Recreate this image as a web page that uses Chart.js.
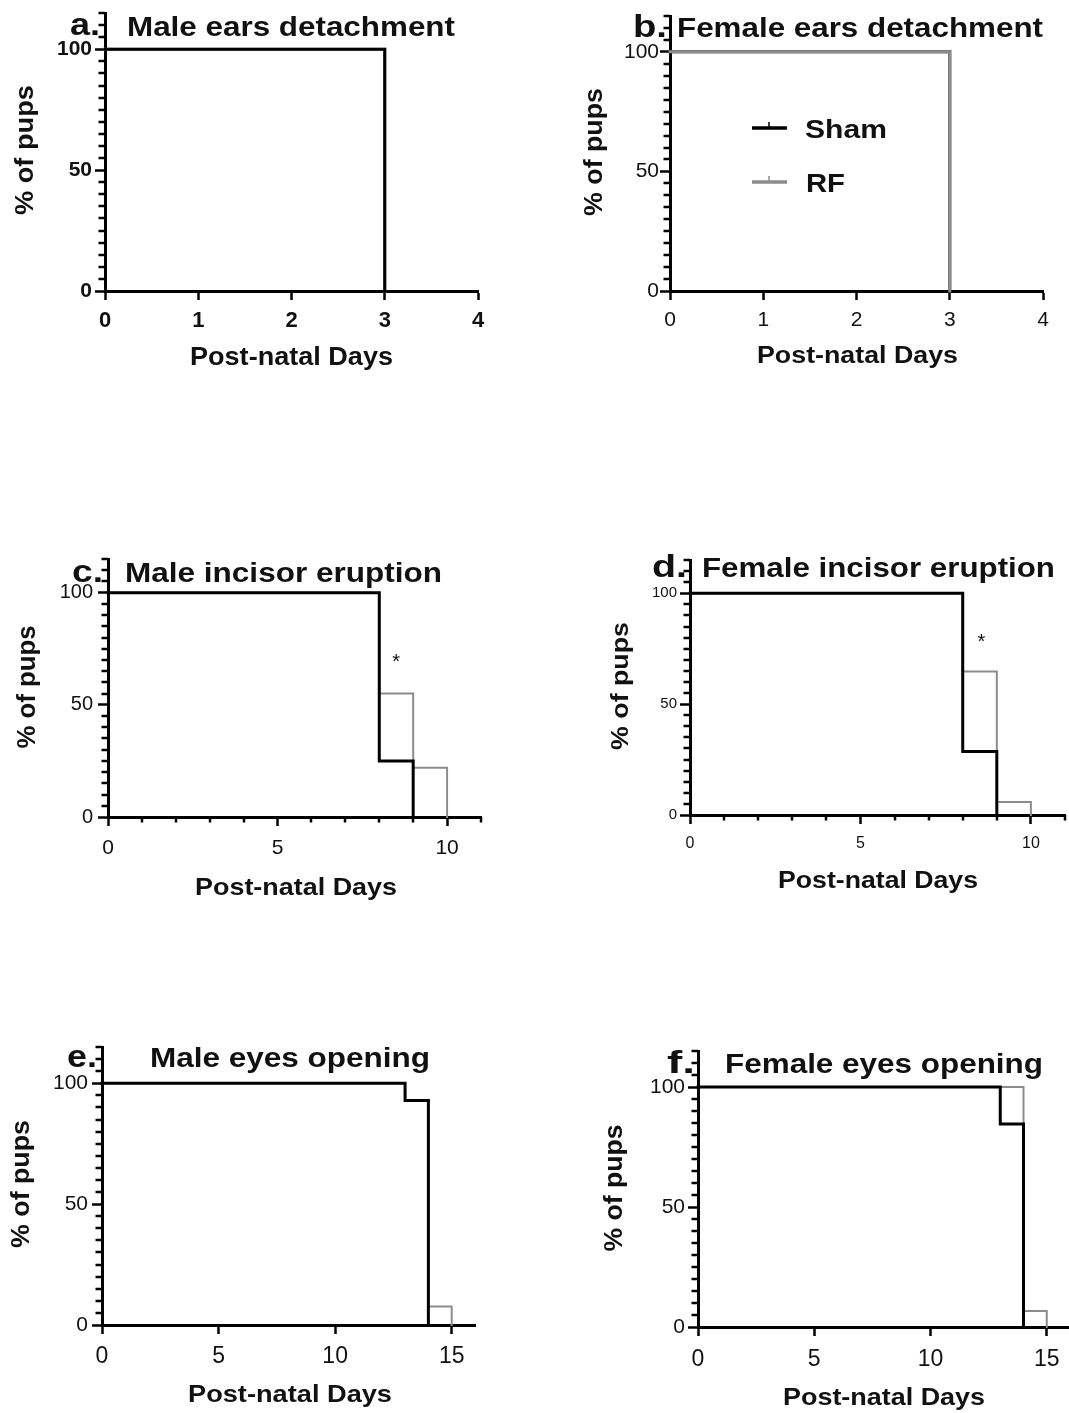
<!DOCTYPE html>
<html><head><meta charset="utf-8">
<script src="https://cdn.jsdelivr.net/npm/chart.js@4.4.0/dist/chart.umd.min.js"></script>
<style>
html,body{margin:0;padding:0;background:#fff;width:1069px;height:1413px;overflow:hidden;position:relative;}
canvas{position:absolute;}
#ov{position:absolute;left:0;top:0;pointer-events:none;}
#ov text{font-family:"Liberation Sans",Arial,Helvetica,sans-serif;fill:#111;}
</style></head><body>
<div id="wrap"></div>
<svg id="ov" width="1069" height="1413" xmlns="http://www.w3.org/2000/svg"></svg>
<script>
// ---------------- DATA ----------------
const seriesNames = ['Sham', 'RF'];
const xTitle = 'Post-natal Days';
const yTitle = '% of pups';
const panelLetters = ['a.', 'b.', 'c.', 'd.', 'e.', 'f.'];
const panelTitles = ['Male ears detachment', 'Female ears detachment', 'Male incisor eruption',
                     'Female incisor eruption', 'Male eyes opening', 'Female eyes opening'];

const yMajorTicks = [0, 50, 100];
const yMinorTicks = [5, 10, 15, 20, 25, 30, 35, 40, 45, 55, 60, 65, 70, 75, 80, 85, 90, 95, 105, 110, 115];
const xTicksEars = [0, 1, 2, 3, 4];
const xTicksIncisor = [0, 5, 10];
const xMinorIncisor = [1, 2, 3, 4, 6, 7, 8, 9, 11];
const xTicksEyes = [0, 5, 10, 15];

// a. Male ears detachment
const aDaysSham = [0, 3], aPctSham = [100, 0];
const aDaysRF = [0, 3], aPctRF = [100, 0];
// b. Female ears detachment
const bDaysSham = [0, 3], bPctSham = [100, 0];
const bDaysRF = [0, 3], bPctRF = [100, 0];
// c. Male incisor eruption
const cDaysSham = [0, 8, 9], cPctSham = [100, 25, 0];
const cDaysRF = [0, 8, 9, 10], cPctRF = [100, 55, 22, 0];
const cStar = [8.5, 71.5];
// d. Female incisor eruption
const dDaysSham = [0, 8, 9], dPctSham = [100, 28.6, 0];
const dDaysRF = [0, 8, 9, 10], dPctRF = [100, 64.7, 5.9, 0];
const dStar = [8.55, 80.5];
// e. Male eyes opening
const eDaysSham = [0, 13, 14], ePctSham = [100, 92.9, 0];
const eDaysRF = [0, 13, 14, 15], ePctRF = [100, 92.9, 7.7, 0];
// f. Female eyes opening
const fDaysSham = [0, 13, 14], fPctSham = [100, 84.6, 0];
const fDaysRF = [0, 14, 15], fPctRF = [100, 6.7, 0];

// ---------------- STYLE / LAYOUT ----------------
const FONT = '"Liberation Sans", Arial, Helvetica, sans-serif';
const SHAM_COLOR = '#000000';
const RF_COLOR = '#8c8c8c';
const W = 50, H = 45, T = 4, R = 22;

function pts(xs, ys) { return xs.map((x, i) => ({ x: x, y: ys[i] })); }

const panels = [
  { x0: 105, x1: 478, yTop: 12.7, y0: 291, xMax: 4, xTicks: xTicksEars, xMinor: [],
    sham: pts(aDaysSham, aPctSham), rf: pts(aDaysRF, aPctRF), rfTop: false, rfW: 3,
    yFont: { size: 21, weight: 'bold' }, xFont: { size: 22, weight: 'bold' }, yPad: 3, xPad: 8, stars: [] },
  { x0: 670, x1: 1043, yTop: 16.1, y0: 291, xMax: 4, xTicks: xTicksEars, xMinor: [],
    sham: pts(bDaysSham, bPctSham), rf: pts(bDaysRF, bPctRF), rfTop: true, rfW: 3,
    yFont: { size: 21, weight: 'normal' }, xFont: { size: 21, weight: 'normal' }, yPad: 1, xPad: 8, stars: [] },
  { x0: 108, x1: 481, yTop: 559.4, y0: 817, xMax: 11, xTicks: xTicksIncisor, xMinor: xMinorIncisor,
    sham: pts(cDaysSham, cPctSham), rf: pts(cDaysRF, cPctRF), rfTop: false, rfW: 2,
    yFont: { size: 20, weight: 'normal' }, xFont: { size: 21, weight: 'normal' }, yPad: 5, xPad: 10, stars: [cStar] },
  { x0: 690, x1: 1065, yTop: 560, y0: 815, xMax: 11, xTicks: xTicksIncisor, xMinor: xMinorIncisor,
    sham: pts(dDaysSham, dPctSham), rf: pts(dDaysRF, dPctRF), rfTop: false, rfW: 2,
    yFont: { size: 15, weight: 'normal' }, xFont: { size: 16, weight: 'normal' }, yPad: 3, xPad: 10, stars: [dStar] },
  { x0: 102, x1: 475.3, yTop: 1047, y0: 1325, xMax: 16, xTicks: xTicksEyes, xMinor: [],
    sham: pts(eDaysSham, ePctSham), rf: pts(eDaysRF, ePctRF), rfTop: false, rfW: 2,
    yFont: { size: 21, weight: 'normal' }, xFont: { size: 23, weight: 'normal' }, yPad: 4, xPad: 9, stars: [] },
  { x0: 698, x1: 1070, yTop: 1050.7, y0: 1326.7, xMax: 16, xTicks: xTicksEyes, xMinor: [],
    sham: pts(fDaysSham, fPctSham), rf: pts(fDaysRF, fPctRF), rfTop: false, rfW: 2,
    yFont: { size: 21, weight: 'normal' }, xFont: { size: 23, weight: 'normal' }, yPad: 3, xPad: 10, stars: [] }
];

const minorTickPlugin = {
  id: 'minorTicks',
  afterDraw(chart, args, opts) {
    const ctx = chart.ctx, xs = chart.scales.x, ys = chart.scales.y, a = chart.chartArea;
    ctx.save();
    ctx.strokeStyle = '#000';
    ctx.lineWidth = 2.5;
    (opts.y || []).forEach(v => {
      const p = Math.round(ys.getPixelForValue(v));
      ctx.beginPath(); ctx.moveTo(a.left, p); ctx.lineTo(a.left - 1.5 - opts.yLen, p); ctx.stroke();
    });
    (opts.x || []).forEach(v => {
      const p = Math.round(xs.getPixelForValue(v));
      ctx.beginPath(); ctx.moveTo(p, a.bottom); ctx.lineTo(p, a.bottom + 1.5 + opts.xLen); ctx.stroke();
    });
    (opts.stars || []).forEach(s => {
      const fs = 20;
      ctx.font = 'normal ' + fs + 'px ' + FONT;
      ctx.fillStyle = '#111';
      ctx.textAlign = 'center';
      ctx.textBaseline = 'alphabetic';
      ctx.fillText('*', xs.getPixelForValue(s[0]), ys.getPixelForValue(s[1]) + 0.57 * fs);
    });
    ctx.restore();
  }
};

const wrap = document.getElementById('wrap');
panels.forEach(p => {
  const cv = document.createElement('canvas');
  const left = p.x0 - W, top = p.yTop - T;
  const width = Math.round(W + (p.x1 - p.x0) + R), height = Math.round(T + (p.y0 - p.yTop) + H);
  cv.width = width; cv.height = height;
  cv.style.left = left + 'px'; cv.style.top = top + 'px';
  cv.style.width = width + 'px'; cv.style.height = height + 'px';
  wrap.appendChild(cv);

  const shamDs = { label: seriesNames[0], data: p.sham, borderColor: SHAM_COLOR, borderWidth: 3,
    stepped: true, pointRadius: 0, fill: false, clip: false, borderCapStyle: 'square', borderJoinStyle: 'miter' };
  const rfDs = { label: seriesNames[1], data: p.rf, borderColor: RF_COLOR, borderWidth: p.rfW,
    stepped: true, pointRadius: 0, fill: false, clip: false, borderCapStyle: 'square', borderJoinStyle: 'miter' };
  const datasets = p.rfTop ? [rfDs, shamDs] : [shamDs, rfDs];

  new Chart(cv, {
    type: 'line',
    data: { datasets: datasets },
    plugins: [minorTickPlugin],
    options: {
      responsive: false, animation: false, devicePixelRatio: 1,
      layout: { padding: { left: 0, top: T, right: R, bottom: 0 } },
      plugins: {
        legend: { display: false }, tooltip: { enabled: false },
        minorTicks: { y: yMinorTicks, x: p.xMinor, yLen: 5, xLen: 4, stars: p.stars }
      },
      scales: {
        x: {
          type: 'linear', min: 0, max: p.xMax,
          afterBuildTicks: s => { s.ticks = p.xTicks.map(v => ({ value: v })); },
          afterFit: s => { s.height = H; s.paddingLeft = 0; s.paddingRight = 0; },
          grid: { display: true, drawOnChartArea: false, drawTicks: true, tickLength: 9, tickWidth: 2.5, tickColor: '#000' },
          border: { display: true, color: '#000', width: 3 },
          ticks: { color: '#111', font: { family: FONT, size: p.xFont.size, weight: p.xFont.weight },
                   padding: p.xPad, maxRotation: 0, autoSkip: false }
        },
        y: {
          type: 'linear', min: 0, max: 115,
          afterBuildTicks: s => { s.ticks = yMajorTicks.map(v => ({ value: v })); },
          afterFit: s => { s.width = W; s.paddingTop = 0; s.paddingBottom = 0; },
          grid: { display: true, drawOnChartArea: false, drawTicks: true, tickLength: 10, tickWidth: 2.5, tickColor: '#000' },
          border: { display: true, color: '#000', width: 3 },
          ticks: { color: '#111', font: { family: FONT, size: p.yFont.size, weight: p.yFont.weight },
                   padding: p.yPad, autoSkip: false }
        }
      }
    }
  });
});

// ---------------- TEXT OVERLAY ----------------
const NS = 'http://www.w3.org/2000/svg';
const ov = document.getElementById('ov');
function txt(s, x, y, size, bold, len, rot) {
  const t = document.createElementNS(NS, 'text');
  t.textContent = s;
  t.setAttribute('font-size', size);
  t.setAttribute('font-weight', bold ? 'bold' : 'normal');
  if (len) { t.setAttribute('textLength', len); t.setAttribute('lengthAdjust', 'spacingAndGlyphs'); }
  if (rot) {
    t.setAttribute('text-anchor', 'middle');
    t.setAttribute('transform', 'translate(' + x + ',' + y + ') rotate(-90)');
    t.setAttribute('x', 0); t.setAttribute('y', 0);
  } else {
    t.setAttribute('x', x); t.setAttribute('y', y);
  }
  ov.appendChild(t);
}
function line(x1, y1, x2, y2, c, w) {
  const l = document.createElementNS(NS, 'line');
  l.setAttribute('x1', x1); l.setAttribute('y1', y1); l.setAttribute('x2', x2); l.setAttribute('y2', y2);
  l.setAttribute('stroke', c); l.setAttribute('stroke-width', w);
  ov.appendChild(l);
}
// letter, title, y-title, x-title positions per panel
const textPos = [
  { L: [70, 35, 30], Ti: [127, 36, 28, 328], Y: [33, 150, 26, 130], X: [190, 365, 25, 203] },
  { L: [633, 37, 34], Ti: [677, 37, 28, 366], Y: [602, 152, 25, 128], X: [757, 363, 23, 201] },
  { L: [72, 582, 31], Ti: [125, 582, 27, 317], Y: [35, 687, 25, 123], X: [195, 895, 24, 202] },
  { L: [652, 577, 35], Ti: [702, 577, 27, 353], Y: [628, 686, 24, 128], X: [778, 888, 23, 200] },
  { L: [67, 1067, 30], Ti: [150, 1067, 28, 280], Y: [29, 1184, 25, 128], X: [188, 1402, 24, 204] },
  { L: [667, 1073, 28], Ti: [725, 1073, 28, 318], Y: [622, 1188, 25, 127], X: [783, 1405, 24, 202] }
];
textPos.forEach((tp, i) => {
  txt(panelLetters[i], tp.L[0], tp.L[1], 32, true, tp.L[2]);
  txt(panelTitles[i], tp.Ti[0], tp.Ti[1], tp.Ti[2], true, tp.Ti[3]);
  txt(yTitle, tp.Y[0], tp.Y[1], tp.Y[2], true, tp.Y[3], true);
  txt(xTitle, tp.X[0], tp.X[1], tp.X[2], true, tp.X[3]);
});
// legend (panel b)
line(752, 128, 787, 128, SHAM_COLOR, 3.5);
line(769, 122, 769, 128, SHAM_COLOR, 1.5);
txt(seriesNames[0], 805, 138, 25, true, 82);
line(752, 182, 787, 182, RF_COLOR, 3.5);
line(769, 176, 769, 182, RF_COLOR, 1.5);
txt(seriesNames[1], 806, 192, 26, true, 39);
</script>
</body></html>
